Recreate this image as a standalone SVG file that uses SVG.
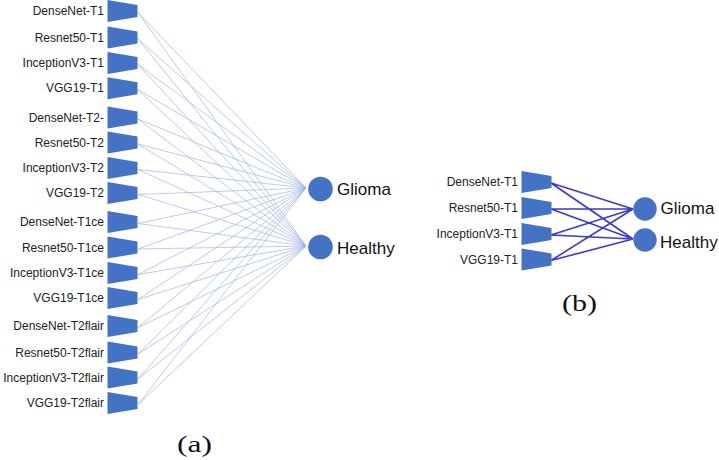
<svg xmlns="http://www.w3.org/2000/svg" width="719" height="460" viewBox="0 0 719 460">
<style>
.bg{fill:#ffffff}
.lbl{font-family:"Liberation Sans",Arial,sans-serif;font-size:12px;fill:#222222;text-anchor:end}
.cls{font-family:"Liberation Sans",Arial,sans-serif;font-size:17px;fill:#111111}
.cap{font-family:"Liberation Serif","Times New Roman",serif;font-size:24px;fill:#111111}
.trap{fill:#4472C4}
.node{fill:#4472C4}
.la{stroke:#9DB5E3;stroke-width:0.7;fill:none}
.lb{stroke:#3A3AD2;stroke-width:1.6;fill:none}
</style>
<defs>
<polygon id="tr" points="0,-11 30,-6 30,6 0,11"/>
</defs>
<rect class="bg" x="0" y="0" width="719" height="460"/>
<g id="connectors-a">
<path class="la" d="M138,12.5L306,188M138,12.5L306,246M138,39L306,188M138,39L306,246M138,64.5L306,188M138,64.5L306,246M138,89.8L306,188M138,89.8L306,246M138,119L306,188M138,119L306,246M138,144L306,188M138,144L306,246M138,169.5L306,188M138,169.5L306,246M138,194.5L306,188M138,194.5L306,246M138,223.5L306,188M138,223.5L306,246M138,249L306,188M138,249L306,246M138,274.5L306,188M138,274.5L306,246M138,299.5L306,188M138,299.5L306,246M138,327.5L306,188M138,327.5L306,246M138,354L306,188M138,354L306,246M138,379L306,188M138,379L306,246M138,404.5L306,188M138,404.5L306,246"/>
</g>
<g id="connectors-b">
<path class="lb" d="M551,183L633,209M551,183L633,239M551,209L633,209M551,209L633,239M551,235L633,209M551,235L633,239M551,260.5L633,209M551,260.5L633,239"/>
</g>
<g id="a-inputs">
<g id="a-densenet-t1"><use href="#tr" class="trap" x="107.5" y="11"/><text class="lbl" x="104" y="15">DenseNet-T1</text></g>
<g id="a-resnet50-t1"><use href="#tr" class="trap" x="107.5" y="37.5"/><text class="lbl" x="104" y="41.5">Resnet50-T1</text></g>
<g id="a-inceptionv3-t1"><use href="#tr" class="trap" x="107.5" y="63"/><text class="lbl" x="104" y="67">InceptionV3-T1</text></g>
<g id="a-vgg19-t1"><use href="#tr" class="trap" x="107.5" y="88.3"/><text class="lbl" x="104" y="92.3">VGG19-T1</text></g>
<g id="a-densenet-t2"><use href="#tr" class="trap" x="107.5" y="117.5"/><text class="lbl" x="104" y="121.5">DenseNet-T2-</text></g>
<g id="a-resnet50-t2"><use href="#tr" class="trap" x="107.5" y="142.5"/><text class="lbl" x="104" y="146.5">Resnet50-T2</text></g>
<g id="a-inceptionv3-t2"><use href="#tr" class="trap" x="107.5" y="168"/><text class="lbl" x="104" y="172">InceptionV3-T2</text></g>
<g id="a-vgg19-t2"><use href="#tr" class="trap" x="107.5" y="193"/><text class="lbl" x="104" y="197">VGG19-T2</text></g>
<g id="a-densenet-t1ce"><use href="#tr" class="trap" x="107.5" y="222"/><text class="lbl" x="104" y="226">DenseNet-T1ce</text></g>
<g id="a-resnet50-t1ce"><use href="#tr" class="trap" x="107.5" y="247.5"/><text class="lbl" x="104" y="251.5">Resnet50-T1ce</text></g>
<g id="a-inceptionv3-t1ce"><use href="#tr" class="trap" x="107.5" y="273"/><text class="lbl" x="104" y="277">InceptionV3-T1ce</text></g>
<g id="a-vgg19-t1ce"><use href="#tr" class="trap" x="107.5" y="298"/><text class="lbl" x="104" y="302">VGG19-T1ce</text></g>
<g id="a-densenet-t2flair"><use href="#tr" class="trap" x="107.5" y="326"/><text class="lbl" x="104" y="330">DenseNet-T2flair</text></g>
<g id="a-resnet50-t2flair"><use href="#tr" class="trap" x="107.5" y="352.5"/><text class="lbl" x="104" y="356.5">Resnet50-T2flair</text></g>
<g id="a-inceptionv3-t2flair"><use href="#tr" class="trap" x="107.5" y="377.5"/><text class="lbl" x="104" y="381.5">InceptionV3-T2flair</text></g>
<g id="a-vgg19-t2flair"><use href="#tr" class="trap" x="107.5" y="403"/><text class="lbl" x="104" y="407">VGG19-T2flair</text></g>
</g>
<g id="a-glioma"><circle class="node" cx="320.5" cy="189" r="12.3"/><text class="cls" x="337" y="194.5">Glioma</text></g>
<g id="a-healthy"><circle class="node" cx="320.5" cy="247" r="12.3"/><text class="cls" x="337" y="254">Healthy</text></g>
<g id="b-inputs">
<g id="b-densenet-t1"><use href="#tr" class="trap" x="521.5" y="182"/><text class="lbl" x="518" y="186">DenseNet-T1</text></g>
<g id="b-resnet50-t1"><use href="#tr" class="trap" x="521.5" y="208"/><text class="lbl" x="518" y="212">Resnet50-T1</text></g>
<g id="b-inceptionv3-t1"><use href="#tr" class="trap" x="521.5" y="234"/><text class="lbl" x="518" y="238">InceptionV3-T1</text></g>
<g id="b-vgg19-t1"><use href="#tr" class="trap" x="521.5" y="259.5"/><text class="lbl" x="518" y="263.5">VGG19-T1</text></g>
</g>
<g id="b-glioma"><circle class="node" cx="645" cy="209" r="11.7"/><text class="cls" x="660.5" y="214">Glioma</text></g>
<g id="b-healthy"><circle class="node" cx="645" cy="240" r="11.7"/><text class="cls" x="660" y="247.5">Healthy</text></g>
<text class="cap" x="177" y="452" textLength="35" lengthAdjust="spacingAndGlyphs">(a)</text>
<text class="cap" x="562" y="311" textLength="35" lengthAdjust="spacingAndGlyphs">(b)</text>
</svg>
